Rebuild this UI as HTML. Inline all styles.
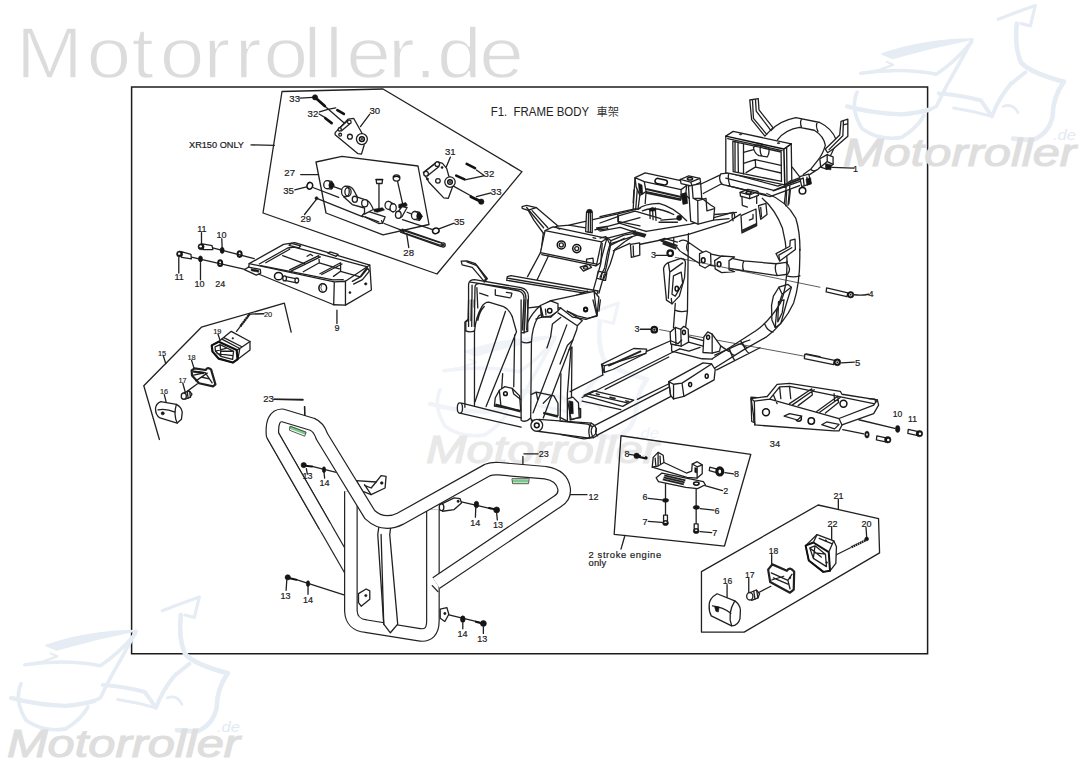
<!DOCTYPE html>
<html><head><meta charset="utf-8"><title>F1. FRAME BODY</title>
<style>
html,body{margin:0;padding:0;background:#fff;}
body{width:1085px;height:768px;overflow:hidden;position:relative;font-family:"Liberation Sans","Noto Sans CJK TC",sans-serif;}
svg{position:absolute;left:0;top:0;display:block}
svg *{vector-effect:non-scaling-stroke}
.k{fill:none;stroke:#202020;stroke-width:1.3;stroke-linejoin:round;stroke-linecap:round}
.t{fill:none;stroke:#333;stroke-width:0.8;stroke-linejoin:round;stroke-linecap:round}
.h{fill:none;stroke:#111;stroke-width:1.5;stroke-linejoin:round;stroke-linecap:round}
.b{fill:none;stroke:#111;stroke-width:2.6;stroke-linecap:round}
.f{fill:#151515;stroke:#151515;stroke-width:0.6;stroke-linejoin:round}
.w{fill:#fff;stroke:#202020;stroke-width:1.3;stroke-linejoin:round;stroke-linecap:round}
.n{font-family:"Liberation Sans",sans-serif;font-size:9.6px;fill:#1c1c1c;stroke:#1c1c1c;stroke-width:0.2}
.s{font-family:"Liberation Sans",sans-serif;font-size:7.4px;fill:#1c1c1c;stroke:#1c1c1c;stroke-width:0.15}
</style></head>
<body>
<svg width="1085" height="768" viewBox="0 0 1085 768">
<!-- 00_border.svg -->
<rect x="131.6" y="86.9" width="796" height="566.9" fill="none" stroke="#1c1c1c" stroke-width="1.5"/>
<!-- 01_wm.svg -->
<g id="wm">
<text transform="scale(1.1,1)" x="14.6 78.7 119.6 145.2 185.0 213.3 239.5 276.0 295.5 314.8 352.7 376.9 397.3 435.8" y="78" style="font-family:'Liberation Sans',sans-serif;font-size:73px" fill="#dcdcdc" stroke="#fff" stroke-width="1.5" stroke-linejoin="round">Motorroller.de</text>
<g transform="translate(820,0)">
<g transform="scale(0.2475)">
<g fill="none" stroke="#e6ecf4" stroke-linecap="round" stroke-linejoin="round">
<path d="M250,218 Q420,160 618,158 Q450,192 292,236 Z" fill="#e6ecf4" stroke-width="1.5"/>
<path d="M165,296 Q330,272 470,300 Q545,250 612,170" stroke-width="3.6"/>
<path d="M270,250 L296,262 L240,282 L165,296" stroke-width="2.2"/>
<path d="M614,162 Q560,262 510,350 L470,430 L445,442" stroke-width="3.6"/>
<path d="M110,430 Q210,458 330,462 Q400,456 445,442" stroke-width="4.4"/>
<path d="M150,372 Q120,440 170,520 Q240,570 330,555 Q395,515 420,466" stroke-width="3.6"/>
<path d="M480,378 Q570,384 650,406 L695,470 Q720,400 770,340 L830,292" stroke-width="4"/>
<path d="M540,436 Q620,448 695,470" stroke-width="3"/>
<path d="M720,78 Q790,50 870,22 L850,105 L812,95" stroke-width="3.2"/>
<path d="M795,95 Q785,190 812,252 Q850,295 985,330" stroke-width="4.6"/>
<path d="M985,330 Q940,395 940,470 Q925,540 860,566 L780,560" stroke-width="4.6"/>
<path d="M740,430 Q780,415 800,456" stroke-width="2.6"/>
</g>
</g>
<text x="23" y="165.6" textLength="233" lengthAdjust="spacingAndGlyphs" style="font-family:'Liberation Sans',sans-serif;font-style:italic;font-size:39px" fill="#dedede" stroke="#dedede" stroke-width="1.1">Motorroller</text>
<text x="233" y="140" textLength="23" lengthAdjust="spacingAndGlyphs" style="font-family:'Liberation Sans',sans-serif;font-style:italic;font-size:14px" fill="#e3eaf3">.de</text>
</g>
<g transform="translate(-16,591.5)">
<g transform="scale(0.2475)">
<g fill="none" stroke="#e6ecf4" stroke-linecap="round" stroke-linejoin="round">
<path d="M250,218 Q420,160 618,158 Q450,192 292,236 Z" fill="#e6ecf4" stroke-width="1.5"/>
<path d="M165,296 Q330,272 470,300 Q545,250 612,170" stroke-width="3.6"/>
<path d="M270,250 L296,262 L240,282 L165,296" stroke-width="2.2"/>
<path d="M614,162 Q560,262 510,350 L470,430 L445,442" stroke-width="3.6"/>
<path d="M110,430 Q210,458 330,462 Q400,456 445,442" stroke-width="4.4"/>
<path d="M150,372 Q120,440 170,520 Q240,570 330,555 Q395,515 420,466" stroke-width="3.6"/>
<path d="M480,378 Q570,384 650,406 L695,470 Q720,400 770,340 L830,292" stroke-width="4"/>
<path d="M540,436 Q620,448 695,470" stroke-width="3"/>
<path d="M720,78 Q790,50 870,22 L850,105 L812,95" stroke-width="3.2"/>
<path d="M795,95 Q785,190 812,252 Q850,295 985,330" stroke-width="4.6"/>
<path d="M985,330 Q940,395 940,470 Q925,540 860,566 L780,560" stroke-width="4.6"/>
<path d="M740,430 Q780,415 800,456" stroke-width="2.6"/>
</g>
</g>
<text x="23" y="165.6" textLength="233" lengthAdjust="spacingAndGlyphs" style="font-family:'Liberation Sans',sans-serif;font-style:italic;font-size:39px" fill="#dedede" stroke="#dedede" stroke-width="1.1">Motorroller</text>
<text x="233" y="140" textLength="23" lengthAdjust="spacingAndGlyphs" style="font-family:'Liberation Sans',sans-serif;font-style:italic;font-size:14px" fill="#e3eaf3">.de</text>
</g>
<g transform="translate(403,297.5)">
<g transform="scale(0.2475)">
<g fill="none" stroke="#f0f3f8" stroke-linecap="round" stroke-linejoin="round">
<path d="M250,218 Q420,160 618,158 Q450,192 292,236 Z" fill="#f0f3f8" stroke-width="1.5"/>
<path d="M165,296 Q330,272 470,300 Q545,250 612,170" stroke-width="3.6"/>
<path d="M270,250 L296,262 L240,282 L165,296" stroke-width="2.2"/>
<path d="M614,162 Q560,262 510,350 L470,430 L445,442" stroke-width="3.6"/>
<path d="M110,430 Q210,458 330,462 Q400,456 445,442" stroke-width="4.4"/>
<path d="M150,372 Q120,440 170,520 Q240,570 330,555 Q395,515 420,466" stroke-width="3.6"/>
<path d="M480,378 Q570,384 650,406 L695,470 Q720,400 770,340 L830,292" stroke-width="4"/>
<path d="M540,436 Q620,448 695,470" stroke-width="3"/>
<path d="M720,78 Q790,50 870,22 L850,105 L812,95" stroke-width="3.2"/>
<path d="M795,95 Q785,190 812,252 Q850,295 985,330" stroke-width="4.6"/>
<path d="M985,330 Q940,395 940,470 Q925,540 860,566 L780,560" stroke-width="4.6"/>
<path d="M740,430 Q780,415 800,456" stroke-width="2.6"/>
</g>
</g>
<text x="23" y="165.6" textLength="233" lengthAdjust="spacingAndGlyphs" style="font-family:'Liberation Sans',sans-serif;font-style:italic;font-size:39px" fill="#e8e8e8" stroke="#e8e8e8" stroke-width="1.1">Motorroller</text>
<text x="233" y="140" textLength="23" lengthAdjust="spacingAndGlyphs" style="font-family:'Liberation Sans',sans-serif;font-style:italic;font-size:14px" fill="#eef2f8">.de</text>
</g>
</g>
<!-- 05_title.svg -->
<text x="490.7" y="115.8" textLength="98.4" lengthAdjust="spacingAndGlyphs" xml:space="preserve" style="font-family:'Liberation Sans',sans-serif;font-size:12px" fill="#222">F1.  FRAME BODY</text>
<text x="596.6" y="116" style="font-family:'Liberation Sans','Noto Sans CJK TC',sans-serif;font-size:11.2px" fill="#333">車架</text>
<!-- 10_xr150.svg -->
<g id="xr150">
<path class="k" d="M282,91.5 L383,89 L522,171.7 L437,274 L263,213 Z"/>
<path class="k" d="M316,162 L342,156.4 L418,166 L429,224.5 L383,234.8 L326,213 Z"/>
<text class="n" x="289.3" y="102.3">33</text>
<text class="n" x="307.6" y="116.5">32</text>
<text class="n" x="369.5" y="113.5">30</text>
<text class="n" x="189" y="147.6" textLength="55" lengthAdjust="spacingAndGlyphs" style="font-size:8.8px">XR150 ONLY</text>
<text class="n" x="284.3" y="176.4">27</text>
<text class="n" x="283.2" y="194">35</text>
<text class="n" x="300.5" y="221.6">29</text>
<text class="n" x="445" y="154.5">31</text>
<text class="n" x="483.6" y="177.4">32</text>
<text class="n" x="490.8" y="195">33</text>
<text class="n" x="454" y="225.3">35</text>
<text class="n" x="403.3" y="255.5">28</text>
<path class="k" d="M251,144.9 L274.3,145.4 M300.7,174.6 L318.5,174.6 M294.8,189.9 L306.6,186.8 M304.5,214.5 L316,199.8"/>
<ellipse class="h" cx="309.8" cy="185.8" rx="2.8" ry="3.4" transform="rotate(20 309.8 185.8)"/>
<circle class="f" cx="316.5" cy="198.2" r="1.5"/>
<g transform="translate(180,86) scale(0.20276)">
<path class="k" d="M592,60 L655,56 M715,100 L855,222 M688,128 Q730,112 768,108 M686,138 L716,156 M935,140 L890,200"/>
<path class="b" d="M668,58 L714,99" style="stroke-width:2.8"/>
<circle class="f" cx="666" cy="56" r="13"/>
<path class="b" d="M776,119 L808,138 M717,159 L748,183"/>
<path class="w" d="M765,230 L830,163 L857,160 L897,232 L908,292 L895,336 L878,334 L765,240 Z"/>
<path class="k" d="M787,207 L828,170 M797,221 L842,183"/>
<circle class="w" cx="835" cy="177" r="9"/><circle class="w" cx="788" cy="214" r="8"/><circle class="w" cx="790" cy="240" r="7"/>
<circle class="w" cx="838" cy="250" r="12"/>
<circle class="w" cx="897" cy="262" r="27"/><circle class="h" cx="897" cy="262" r="12"/><circle class="f" cx="897" cy="262" r="4"/>
</g>
<g transform="translate(340,120) scale(0.208333)">
<path class="k" d="M530,178 L510,226 M540,315 L630,365 M690,265 L655,240 M690,268 L605,286 M725,350 L655,368 M548,495 L478,521 M330,612 L320,545"/>
<path class="b" d="M608,211 L648,231 M558,267 L598,285"/>
<path class="b" d="M628,368 L680,393" style="stroke-width:2.8"/>
<circle class="f" cx="678" cy="392" r="13"/>
<path class="w" d="M400,252 L466,200 L492,208 L512,232 L522,268 L548,300 L520,376 L498,374 L428,300 Z"/>
<path class="k" d="M406,248 L460,206 M420,268 L474,224"/>
<circle class="w" cx="467" cy="212" r="11"/><circle class="w" cx="413" cy="258" r="11"/><circle class="w" cx="470" cy="292" r="11"/>
<circle class="w" cx="528" cy="298" r="25"/><circle class="h" cx="528" cy="298" r="11"/><circle class="f" cx="528" cy="298" r="4"/>
<circle class="f" cx="490" cy="228" r="5"/><circle class="f" cx="420" cy="283" r="5"/>
<ellipse class="h" cx="460" cy="532" rx="16" ry="13" transform="rotate(-20 460 532)"/>
<path class="k" d="M300,478 L445,526"/>
<path class="k" d="M298,524 L488,590 M290,538 L482,607"/>
<circle class="w" cx="495" cy="600" r="10"/><circle class="k" cx="495" cy="600" r="4"/>
</g>
</g>
<!-- 11_mech.svg -->
<g id="mech" transform="translate(300,160) scale(0.129032)">
<path class="k" d="M100,213 L300,290 M140,302 L488,440 M652,492 L790,545 M245,200 L320,228 M830,405 L868,420"/>
<path class="k" d="M790,543 L1085,640 M800,562 L1085,660"/>
<path class="f" d="M770,540 L800,548 L810,560 L780,552 Z"/>
<!-- plate -->
<path class="w" d="M480,432 L515,395 L660,440 L640,490 L610,492 Z"/>
<path class="k" d="M505,440 L610,480 M640,490 L632,470"/>
<!-- left bushing -->
<path class="w" d="M210,160 L245,165 L262,195 L245,225 L210,222 Z"/>
<ellipse class="w" cx="210" cy="191" rx="26" ry="31"/>
<path class="f" d="M232,172 L250,170 L265,195 L250,222 L232,218 Q215,195 232,172 Z"/>
<!-- link arm -->
<path class="w" d="M345,205 Q395,195 420,240 L445,288 L520,312 Q548,330 568,384 L500,420 L500,372 L405,345 L338,285 Z"/>
<ellipse class="w" cx="352" cy="245" rx="30" ry="40"/>
<ellipse class="k" cx="372" cy="247" rx="24" ry="34"/>
<ellipse class="w" cx="425" cy="305" rx="20" ry="24"/>
<ellipse class="w" cx="502" cy="335" rx="24" ry="28"/>
<!-- pins -->
<path class="k" d="M612,180 L612,378 M756,166 L796,342"/>
<path class="w" d="M590,152 L640,152 L636,182 L594,182 Z"/>
<path class="h" d="M590,152 L640,152"/>
<ellipse class="w" cx="748" cy="140" rx="26" ry="24"/>
<path class="h" d="M726,132 Q748,120 770,134"/>
<path class="f" d="M572,382 L640,370 L655,388 L600,405 L575,400 Z"/>
<path class="f" d="M765,345 L820,330 L832,350 L790,378 L766,372 Z"/>
<!-- mid bushings -->
<path class="w" d="M685,320 L722,338 L722,402 L685,382 Z"/>
<ellipse class="w" cx="685" cy="351" rx="26" ry="31"/>
<ellipse class="w" cx="722" cy="370" rx="24" ry="31"/>
<!-- right arm -->
<path class="w" d="M790,362 L830,368 L790,440 Q760,462 740,432 Z"/>
<ellipse class="w" cx="762" cy="425" rx="22" ry="28"/>
<!-- right bushing -->
<path class="w" d="M890,399 L925,405 L945,437 L925,468 L890,461 Z"/>
<ellipse class="w" cx="890" cy="430" rx="26" ry="31"/>
<path class="f" d="M912,410 L930,408 L948,437 L930,466 L912,458 Q896,435 912,410 Z"/>
</g>
<!-- 20_part9.svg -->
<g id="part9" transform="translate(165,220) scale(0.20276)">
<!-- axis lines -->
<path class="k" d="M235,138 L440,190 M130,183 L400,245 M180,62 L180,118 M280,92 L282,138 M68,186 L68,262 M175,210 L175,295 M848,445 L848,510"/>
<!-- tray body -->
<path class="w" d="M415,215 L585,120 L640,112 L1010,222 L1018,345 L890,420 L832,418 L470,270 L412,240 Z"/>
<path class="k" d="M415,215 L835,305 L890,302 L1010,222 M835,305 L832,418 M890,302 L890,420"/>
<path class="k" d="M465,217 L605,138 L637,134 L994,230 M472,225 L828,295 L879,294 M615,246 L758,176 L761,211 L682,255 M624,251 L766,182 M764,265 L866,211 L866,253 L831,278 M773,269 L873,217 M580,176 L688,215 M761,211 L860,241 M866,253 L962,281 L997,233 M924,303 L968,278 L1000,239 L1008,252 L974,294 L930,316 M701,179 L717,169 L728,176 M497,211 L615,144"/>
<path class="w" d="M612,125 L624,115 L669,128 L659,138 Z"/>
<path class="w" d="M803,163 L815,157 L854,169 L844,179 Z"/>
<!-- front tab left -->
<path class="w" d="M392,245 L412,232 L470,244 L472,262 L450,272 Z"/>
<path class="f" d="M425,240 L462,248 L462,258 L425,250 Z"/>
<!-- front holes -->
<ellipse class="h" cx="560" cy="277" rx="20" ry="18"/>
<path class="w" d="M590,278 L650,290 L650,310 L590,298 Z"/>
<ellipse class="w" cx="590" cy="288" rx="9" ry="12"/><ellipse class="w" cx="650" cy="298" rx="9" ry="12"/>
<ellipse class="h" cx="778" cy="335" rx="19" ry="21"/>
<path class="t" d="M772,322 Q762,335 775,350"/>
<circle class="f" cx="912" cy="358" r="5"/><circle class="f" cx="990" cy="315" r="6"/>
<!-- bolts upper -->
<path class="w" d="M185,118 L232,126 L236,146 L188,146 Z"/>
<circle class="f" cx="178" cy="132" r="15"/><circle cx="176" cy="130" r="6" fill="#fff"/>
<ellipse class="f" cx="282" cy="150" rx="10" ry="15"/>
<ellipse cx="368" cy="168" rx="10" ry="14" fill="none" stroke="#151515" stroke-width="2"/>
<!-- bolts lower -->
<path class="w" d="M80,156 L128,170 L130,192 L82,184 Z"/>
<circle class="f" cx="72" cy="168" r="15"/><circle cx="70" cy="166" r="6" fill="#fff"/>
<ellipse class="f" cx="175" cy="192" rx="10" ry="15"/>
<ellipse cx="272" cy="213" rx="10" ry="14" fill="none" stroke="#151515" stroke-width="2"/>
</g>
<text class="n" x="197.2" y="232.4" style="font-size:9px">11</text>
<text class="n" x="216.5" y="238" style="font-size:9px">10</text>
<text class="n" x="174.5" y="280" style="font-size:9px">11</text>
<text class="n" x="194.6" y="286.6" style="font-size:9px">10</text>
<text class="n" x="215.2" y="286.6" style="font-size:9px">24</text>
<text class="n" x="334.6" y="330.6" style="font-size:9px">9</text>
<!-- 30_signalL.svg -->
<g id="sigL" transform="translate(135,295) scale(0.195228)">
<path class="k" d="M125,740 L45,465 L340,165 L765,42 L800,190"/>
<path class="k" d="M145,312 L158,352 M425,200 L440,245 M660,96 L590,98 M290,335 L305,385 M245,452 L258,500 M150,510 L160,550 M712,533 L860,535 M868,572 L870,625"/>
<!-- screw 20 -->
<path class="k" d="M586,100 L520,186"/>
<path d="M588,96 L540,160" fill="none" stroke="#222" stroke-width="2.4" stroke-dasharray="1.8 0.5"/>
<!-- part 19 housing -->
<path class="w" d="M393,258 L429,238 L493,186 L589,238 L589,282 L525,330 L501,346 L429,326 L397,290 Z"/>
<path class="k" d="M445,226 L537,274 L589,238 M537,274 L527,328 M455,218 L545,264 M521,282 L537,274"/>
<path class="h" d="M393,258 L429,240 L521,282 L525,330 L501,346 L429,326 L397,290 Z" style="stroke-width:2.2"/>
<path class="k" d="M410,266 L436,254 L505,288 L500,330 L440,314 L412,288 Z M436,254 L440,314 M440,288 L505,288 M412,288 L470,272 M420,300 L500,310"/>
<circle class="f" cx="501" cy="222" r="4"/>
<!-- part 18 plate -->
<path class="w" d="M290,386 L305,376 L362,384 Q372,366 390,382 L412,458 L400,468 L328,452 L292,412 Z" style="stroke-width:2.2"/>
<path class="k" d="M305,392 L360,398 L395,450 M300,410 L350,400 M312,440 L370,400 M340,420 L380,430"/>
<path class="f" d="M298,388 L355,396 L352,404 L298,396 Z"/>
<!-- bulb 17 -->
<path class="k" d="M258,500 L320,455"/>
<path class="w" d="M252,500 L278,492 L292,508 L282,524 L256,534 Z"/>
<ellipse class="w" cx="250" cy="518" rx="13" ry="16"/>
<path class="k" d="M268,496 L272,530 M280,494 L284,524"/>
<!-- lens 16 -->
<path class="w" d="M105,580 Q108,556 132,546 L212,560 Q238,574 242,600 L238,636 L216,656 L128,630 Q104,615 105,580 Z"/>
<path class="k" d="M216,656 Q196,612 212,560 M118,588 Q160,580 205,600"/>
<circle class="f" cx="142" cy="606" r="8"/>
</g>
<text class="s" x="158" y="356">15</text>
<text class="s" x="213.2" y="334">19</text>
<text class="s" x="264" y="316.5">20</text>
<text class="s" x="187.4" y="360">18</text>
<text class="s" x="178.4" y="382.8">17</text>
<text class="s" x="160" y="394.2">16</text>
<text class="n" x="263.2" y="402.3">23</text>
<!-- 40_bumper.svg -->
<g id="bumper" transform="translate(225,395) scale(0.33211)" fill="none">
<!-- bolt axis lines behind -->
<path class="k" d="M262,215 L335,233 M215,556 L358,602 M147,13 L235,15 M240,35 L240,65 M900,177 L943,177 M897,185 L897,210 M1020,300 L1090,300"/>
<!-- upper-left bracket (behind tube) -->
<path class="w" d="M395,258 L455,262 L470,243 L485,245 L482,280 L440,300 L415,290 Z"/>
<path class="k" d="M420,270 L440,300 M455,262 L440,280 L420,272"/>
<circle class="f" cx="472" cy="265" r="4"/>
<!-- left limb (behind U frame) -->
<path d="M378,529 L143,120" stroke="#222" stroke-width="13.7"/>
<path d="M378,529 L143,120" stroke="#fff" stroke-width="11.3"/>
<!-- U frame -->
<path d="M379,290 L379,650 Q381,692 425,696 L585,722 Q626,728 626,680 L626,345" stroke="#222" stroke-width="13.7" stroke-linejoin="round"/>
<path d="M379,290 L379,650 Q381,692 425,696 L585,722 Q626,728 626,680 L626,345" stroke="#fff" stroke-width="11.3" stroke-linejoin="round"/>
<!-- right bracket -->
<path class="w" d="M648,330 L690,310 L708,312 L712,325 L690,345 L655,350 Z"/>
<ellipse class="w" cx="652" cy="338" rx="7" ry="10"/>
<circle class="f" cx="702" cy="320" r="3.5"/>
<!-- lower tabs -->
<path class="w" d="M402,598 L425,584 L436,590 L436,615 L410,636 L402,625 Z"/>
<circle class="f" cx="424" cy="604" r="3.5"/>
<path class="w" d="M648,645 L668,640 L674,660 L662,682 L648,672 Z"/>
<circle class="f" cx="662" cy="658" r="3.5"/>
<!-- centre flattened tube -->
<path class="w" d="M464,392 L460,420 L478,690 L498,716 L520,690 L496,420 L499,398 Z"/>
<path class="k" d="M478,690 L470,420"/>
<!-- upper tube -->
<path d="M300,394 L143,120 Q139,62 172,61 L262,88 Q282,96 292,125 L436,360 Q477,398 529,372 L790,226 Q805,220 825,222 L965,234 Q1015,242 1021,282 Q1024,306 1003,319 L636,566" stroke="#222" stroke-width="13.7" stroke-linejoin="round"/>
<path d="M306,404 L143,120 Q139,62 172,61 L262,88 Q282,96 292,125 L436,360 Q477,398 529,372 L790,226 Q805,220 825,222 L965,234 Q1015,242 1021,282 Q1024,306 1003,319 L636,566" stroke="#fff" stroke-width="11.3" stroke-linejoin="round"/>
<path class="k" d="M624,574 L641,592"/>
<!-- reflectors -->
<path d="M198,98 L240,114" stroke="#7c8" stroke-width="3.2" stroke-linecap="round"/>
<path d="M196,94 L244,112 L240,124 L194,106 Z" stroke="#444" stroke-width="0.9"/>
<path d="M870,259 L910,259" stroke="#7c8" stroke-width="3.2" stroke-linecap="round"/>
<path d="M864,252 L916,252 L914,267 L866,267 Z" stroke="#444" stroke-width="0.9"/>
<!-- bolts -->
<path class="b" d="M242,213 L262,215" style="stroke-width:2"/><circle class="f" cx="237" cy="211" r="8"/>
<ellipse class="f" cx="298" cy="225" rx="5" ry="9"/>
<path class="k" d="M298,232 L300,250 M245,222 L248,238"/>
<path class="b" d="M195,552 L215,556" style="stroke-width:2"/><circle class="f" cx="189" cy="549" r="8"/>
<ellipse class="f" cx="250" cy="568" rx="5" ry="9"/>
<path class="k" d="M186,558 L184,588 M250,578 L250,600"/>
<path class="k" d="M712,322 L800,342"/>
<ellipse class="f" cx="757" cy="330" rx="7" ry="10"/>
<path class="b" d="M795,340 L812,344" style="stroke-width:2"/><circle class="f" cx="818" cy="346" r="9"/>
<path class="k" d="M755,340 L754,368 M818,356 L820,376"/>
<path class="k" d="M674,662 L765,684"/>
<ellipse class="f" cx="716" cy="675" rx="7" ry="10"/>
<path class="b" d="M755,683 L772,687" style="stroke-width:2"/><circle class="f" cx="778" cy="688" r="9"/>
<path class="k" d="M716,686 L716,704 M778,698 L778,718"/>
</g>
<text class="n" x="302.5" y="478.8" style="font-size:9px">13</text>
<text class="n" x="319.5" y="485.5" style="font-size:9px">14</text>
<text class="n" x="470.2" y="525.5" style="font-size:9px">14</text>
<text class="n" x="493" y="528" style="font-size:9px">13</text>
<text class="n" x="280.5" y="598.5" style="font-size:9px">13</text>
<text class="n" x="303" y="602.8" style="font-size:9px">14</text>
<text class="n" x="457.5" y="637" style="font-size:9px">14</text>
<text class="n" x="477.3" y="641.6" style="font-size:9px">13</text>
<text class="n" x="538.7" y="457.4" style="font-size:9px">23</text>
<text class="n" x="588.5" y="499.6" style="font-size:9px">12</text>
<!-- 50_frameA.svg -->
<g id="frameA" transform="translate(440,190) scale(0.184332)">
<!-- tubes behind plate going right -->
<path class="k" d="M640,196 L700,190 L965,130 M840,216 L1085,150 M700,190 L790,205 M905,262 L1060,222 M930,290 L1085,240 M965,130 L965,170 L1085,195 M965,130 L1085,100 M1048,70 L1052,0 M1062,100 L1070,0 M850,205 L905,198 L910,210 L860,218 Z"/>
<!-- hook upper -->
<path class="w" d="M445,90 L470,84 L522,95 L640,195 L600,210 L562,236 L510,165 L478,110 L446,100 Z"/>
<path class="k" d="M470,95 L562,205 M522,95 L484,108 M500,112 L585,205"/>
<!-- left rails down from plate -->
<path class="k" d="M545,340 L475,470 M588,358 L522,498 M560,236 L548,340"/>
<!-- front plate -->
<path class="w" d="M570,220 L612,200 L905,262 L876,282 L850,402 L545,340 Z"/>
<path class="k" d="M570,220 L876,282 M552,350 L846,412 L850,402 M846,412 L870,395 L905,262"/>
<circle class="h" cx="658" cy="298" r="22"/><circle class="k" cx="658" cy="298" r="11"/>
<circle class="h" cx="742" cy="318" r="22"/><circle class="k" cx="742" cy="318" r="11"/>
<path class="k" d="M795,375 L830,370 L832,398 M795,375 L795,395 M640,208 L650,212 M830,258 L845,262"/>
<path class="w" d="M760,418 L808,404 L822,420 L778,440 Z"/><ellipse class="k" cx="790" cy="422" rx="12" ry="7"/>
<!-- post -->
<path class="w" d="M795,120 L790,226 L826,232 L826,120 Z"/>
<path class="k" d="M806,125 L804,228 M816,125 L816,230"/>
<ellipse class="f" cx="811" cy="115" rx="15" ry="10"/>
<!-- right vertical tube -->
<path class="k" d="M905,262 L925,300 L902,420 L862,560 M880,290 L872,400 L832,542 M925,300 L1000,262 M940,330 L1030,290 M880,445 L905,450 L898,490 L872,485 M858,440 L880,445 L872,485 L850,478 Z"/>
<!-- cross bar -->
<path class="w" d="M365,470 L385,464 L858,548 L850,568 L800,562 L362,490 Z"/>
<path class="k" d="M365,478 L820,555 M640,610 L800,548 M650,622 L835,560"/>
<!-- lower hook -->
<path class="w" d="M115,386 L146,384 L192,400 L256,480 L236,492 L175,420 L120,406 Z"/>
<path class="k" d="M146,390 L200,410 L250,484"/>
<!-- U handle -->
<path class="k" d="M155,740 L155,512 Q158,486 188,486 L440,530 Q480,540 480,580 L470,760 M186,740 L190,522 Q195,506 215,508 L430,548 Q456,556 456,590 L446,760 M172,740 L174,516 M165,500 L440,540 Q468,552 466,590 L458,760"/>
<path class="k" d="M200,530 L205,640 M215,560 L260,575 M300,540 L300,570 L380,585 M360,555 L390,560 L385,580"/>
<path class="k" d="M155,700 L140,712 L140,760 M240,500 L256,482"/>
<!-- bracket right-lower -->
<path class="w" d="M545,632 L602,600 L836,550 L862,582 L852,680 L792,702 L720,690 L655,640 L600,690 L552,690 Z"/>
<path class="k" d="M602,600 L610,640 L655,640 M836,550 L840,590 L852,680 M545,632 L552,690 M610,640 L600,690"/>
<circle class="h" cx="595" cy="658" r="12"/><circle class="h" cx="790" cy="650" r="10"/>
<path class="k" d="M570,650 L572,680 M480,640 L545,632 M520,700 L552,690"/>
</g>
<!-- 51_frameB.svg -->
<g id="frameB" transform="translate(440,300) scale(0.184332)">
<!-- right vertical tube (behind) -->
<path class="k" d="M716,255 L712,640 M656,400 L652,650 M716,255 L700,270"/>
<!-- left vertical tube -->
<path class="k" d="M135,120 L135,582 M187,170 L187,572 M135,120 L150,112 M135,165 Q160,180 187,168 M155,0 L152,112 M170,0 L168,112 M186,0 L186,40"/>
<!-- arch 1 -->
<path class="k" d="M187,170 Q195,90 225,40 Q240,12 265,12 L345,36 Q375,50 392,90 M205,110 Q215,60 240,35"/>
<!-- diagonal 1 -->
<path class="k" d="M355,62 L190,552 M415,172 L250,578 M392,90 L415,172 M405,190 L400,470 M340,400 L335,480"/>
<!-- middle vertical tube -->
<path class="k" d="M440,0 L440,652 M496,228 L492,640 M456,0 L456,180 M476,0 L476,170 M440,180 L476,170 M440,225 Q470,240 496,226 M440,652 Q465,668 492,640"/>
<!-- arch 2 -->
<path class="k" d="M496,228 Q500,150 530,95 Q545,70 560,90 M476,120 Q500,70 545,30"/>
<!-- diagonal 2 + X -->
<path class="k" d="M688,135 L505,612 M742,160 L560,640 M640,70 L745,140 L742,160 M690,60 L772,112 L745,140 M655,95 L610,130 L600,200 L580,260"/>
<!-- top bracket bottom part -->
<path class="w" d="M545,30 L600,5 L640,20 L640,60 L600,88 L560,92 Z"/>
<circle class="h" cx="595" cy="58" r="12"/><path class="k" d="M572,50 L575,80"/>
<path class="k" d="M830,0 L852,88 L800,100 L745,86 L690,60 M870,0 L862,60"/>
<circle class="h" cx="790" cy="50" r="10"/>
<!-- bottom cross tube 1 -->
<path class="k" d="M118,560 L440,640 M108,614 L440,690 M496,652 L520,655"/>
<ellipse class="w" cx="108" cy="586" rx="14" ry="28"/>
<!-- hinges -->
<path class="w" d="M295,575 L300,530 L322,490 L352,470 L392,480 L432,520 L438,600 Z"/>
<circle class="h" cx="355" cy="508" r="10"/>
<path class="k" d="M392,480 L400,510 L438,540 M322,490 L330,570"/>
<path d="M300,568 L438,604" fill="none" stroke="#222" stroke-width="2.4"/>
<path class="k" d="M496,512 L522,500 L618,520 L640,560 L640,628 M522,500 L530,540 M600,520 L560,560"/>
<path d="M560,612 L640,632" fill="none" stroke="#222" stroke-width="2.4"/>
<path class="w" d="M700,545 L730,540 L746,572 L746,640 L706,652 Z"/>
<path class="k" d="M746,590 L760,592 L760,640 L746,640 M715,560 L716,640"/>
<!-- bottom cross tube 2 -->
<path class="w" d="M535,648 L820,668 Q850,680 848,712 Q842,745 800,748 L530,712 Z"/>
<path class="k" d="M820,668 Q800,700 812,746"/>
<circle class="w" cx="525" cy="680" r="32"/><circle class="h" cx="525" cy="680" r="13"/>
<path class="k" d="M500,660 L492,640"/>
</g>
<!-- 52_frameC.svg -->
<g id="frameC" transform="translate(600,150) scale(0.184332)">
<!-- upper cross tube + connector -->
<path class="k" d="M545,186 L650,136 M560,236 L662,182 M655,130 Q640,158 662,186 M655,130 L700,124 L965,196 M662,186 L900,242 M700,124 Q690,150 705,196 M965,196 L1085,150 M940,222 L1085,170 M1010,200 L1000,290 M1030,195 L1020,300"/>
<!-- big curved tube right -->
<path class="k" d="M905,236 Q1010,275 1062,370 Q1085,440 1085,545 M880,262 Q950,320 990,425 Q1012,510 1015,612"/>
<!-- long tube -->
<path class="k" d="M250,442 L490,402 L722,338 M205,514 L480,458 L700,388 L762,348 M722,338 Q735,350 728,372"/>
<!-- left lines -->
<path class="k" d="M0,362 L195,318 M0,396 L100,360 L100,396 L250,442 M100,358 L190,332 L330,372 M0,478 L30,470 L60,492 L40,560 L25,640 L0,690 M60,492 L130,462 L200,450 M0,440 L110,420 L200,450 M130,500 L80,540 L55,620 L20,700 M130,500 L175,470"/>
<path d="M170,440 L250,462 M180,452 L245,470" fill="none" stroke="#222" stroke-width="2.2"/>
<!-- box -->
<path class="w" d="M190,150 L245,124 L438,166 L470,192 L466,232 L440,242 L440,266 L250,226 L216,246 L196,200 Z"/>
<path class="k" d="M190,150 L240,172 L250,226 M240,172 L440,215 L470,192 M440,215 L440,242 M190,150 L180,320 M216,246 L206,322 M250,226 L245,290"/>
<path d="M250,212 L440,255 M250,232 L440,272" fill="none" stroke="#222" stroke-width="2"/>
<rect class="h" x="298" y="158" width="68" height="28" rx="14" transform="rotate(12 332 172)"/>
<path class="f" d="M208,180 L228,190 L232,240 L214,235 Z M440,240 L470,232 L475,290 L450,295 Z"/>
<!-- pads -->
<path class="w" d="M435,160 L482,140 L542,154 L546,176 L500,196 L440,182 Z"/><ellipse class="h" cx="488" cy="156" rx="14" ry="7"/>
<path class="k" d="M435,160 L492,174 L542,154 M492,174 L500,196"/>
<path class="w" d="M760,230 L802,214 L856,225 L860,246 L812,264 L762,250 Z"/><ellipse class="h" cx="806" cy="232" rx="14" ry="7"/>
<path class="k" d="M760,230 L812,244 L856,225 M812,244 L812,264 M770,252 L772,300 L800,310 M850,250 L850,290"/>
<!-- block under pad 1 -->
<path class="w" d="M480,196 L546,182 L552,262 L600,298 L622,312 L616,380 L532,402 L492,386 L484,262 Z"/>
<path class="k" d="M500,196 L505,262 L530,275 L532,402 M552,262 L505,262 M530,275 L575,262 L580,330 L616,320 M460,240 L484,262"/>
<!-- arch under box -->
<path class="k" d="M206,322 Q240,292 320,290 Q400,310 470,384 M230,330 Q300,300 400,350 M270,322 L272,372 M300,314 L304,382 M285,318 L288,378 M330,380 L430,372 M320,392 L420,392"/>
<circle class="f" cx="430" cy="368" r="14"/>
<path class="f" d="M270,318 Q285,305 300,318 L300,330 L270,332 Z"/>
<!-- tube to right from block -->
<path class="k" d="M622,350 Q690,345 740,338 M616,380 L700,372 M720,340 Q712,360 722,384"/>
<!-- plates -->
<path class="w" d="M765,356 L846,320 L850,410 L770,450 Z"/><path d="M770,440 L850,402" fill="none" stroke="#222" stroke-width="2.4"/><path class="k" d="M810,380 L830,372 L830,350"/>
<path class="w" d="M860,302 L900,290 L906,350 L872,376 Z"/><path class="k" d="M872,312 L876,362"/>
<path class="w" d="M955,562 L1030,522 L1032,490 L1058,484 L1060,540 L975,602 Z"/><path class="k" d="M975,602 L970,570 L1040,530"/>
<path class="w" d="M165,512 L215,504 L216,570 L170,582 Z"/><path class="k" d="M180,520 L182,575"/>
<!-- lower tube -->
<path class="k" d="M430,496 Q455,480 480,500 L560,556 L780,602 L955,617 L1010,610 Q1042,640 1018,674 L962,681 L780,655 L540,616 L455,562 Q430,550 420,530 M780,602 Q768,630 780,655 M955,617 Q944,650 962,681 M480,500 Q462,520 475,548"/>
<path class="w" d="M540,562 L575,548 L600,560 L602,620 L570,640 L540,625 Z"/><ellipse class="h" cx="560" cy="598" rx="10" ry="14"/>
<path class="w" d="M622,600 L660,575 L730,580 L700,600 L700,650 L730,660 L660,665 L625,645 Z"/><ellipse class="h" cx="646" cy="620" rx="10" ry="14"/>
<!-- label 3 + nut -->
<path class="k" d="M302,572 L362,572"/>
<circle cx="381" cy="560" r="15" fill="#fff" stroke="#151515" stroke-width="2.2"/>
<path d="M330,490 L420,522 M340,505 L415,535" fill="none" stroke="#222" stroke-width="2.4"/>
<path class="k" d="M320,490 L350,480 L420,500 M400,480 L400,520"/>
</g>
<text class="n" x="651" y="258" style="font-size:9px">3</text>
<!-- 53_frameD.svg -->
<g id="frameD" transform="translate(700,86) scale(0.184332)">
<!-- rear curved tube -->
<path class="k" d="M385,242 Q430,190 520,172 L650,198 Q715,230 738,290 Q735,330 700,392 L640,452 L592,482 M420,292 Q465,236 540,225 L620,240 Q672,272 680,322 Q665,372 640,402 L600,452 L560,480 M550,180 Q540,200 552,226 M636,196 Q626,218 640,246 M600,452 Q615,468 640,452"/>
<!-- left hook -->
<path class="w" d="M270,76 L316,68 L320,130 L396,226 L352,272 L280,182 Z"/>
<path class="k" d="M285,80 L290,176 L362,262 M301,74 L305,136 L382,238"/>
<!-- right hook -->
<path class="w" d="M765,192 L802,180 L802,272 L722,342 L692,362 L680,342 L758,266 Z"/>
<path class="k" d="M778,192 L775,270 L700,345 M782,210 L800,205"/>
<!-- connector + label 1 -->
<path class="w" d="M650,395 L690,372 L722,385 L722,425 L690,452 L655,440 Z"/>
<path class="k" d="M690,372 L690,410 L655,440 M690,410 L722,425 M715,442 L835,446"/>
<path class="f" d="M680,420 L712,428 L710,455 L682,450 Z"/>
<!-- latch -->
<path class="w" d="M540,492 L590,478 L602,530 L552,546 Z"/>
<path class="k" d="M560,500 L565,540 M580,495 L585,535"/>
<circle class="h" cx="556" cy="568" r="18"/>
<path class="f" d="M575,505 L600,498 L604,530 L580,538 Z"/>
<!-- box frame -->
<path class="w" d="M140,272 L180,246 L495,314 L498,510 L460,536 L140,470 Z"/>
<path class="h" d="M140,272 L455,342 L460,536 M455,342 L495,314"/>
<path class="k" d="M178,300 L440,358 L442,518 L180,464 Z M150,285 L445,350 M470,335 L472,522 M190,300 L190,462 M236,318 L236,478 M206,306 L208,466"/>
<path class="k" d="M290,335 Q300,315 330,322 L372,335 Q380,360 365,385 L320,378 Q295,365 290,335 M300,400 L440,430 M300,400 L302,440 L440,472 M236,420 L300,400 M250,470 L300,440 M330,322 Q320,350 335,380 M236,360 L290,345"/>
<ellipse class="f" cx="220" cy="262" rx="7" ry="3"/><ellipse class="f" cx="426" cy="310" rx="7" ry="3"/>
<!-- under box -->
<path class="k" d="M140,500 L400,566 L560,500 M150,540 L380,600 L540,540 M460,536 L540,505 M470,572 L466,650 M490,566 L482,640 M500,440 L540,492"/>
</g>
<text class="n" x="853" y="171.5" style="font-size:9px">1</text>
<!-- 54_frameE.svg -->
<g id="frameE" transform="translate(620,250) scale(0.184332)">
<!-- axis lines for bolts 4,5 -->
<path class="t" d="M300,40 L1085,202"/>
<path class="t" d="M215,432 L1000,576"/>
<!-- vertical tube -->
<path class="k" d="M371,-90 L366,330 L356,420 M300,290 L290,420 M298,326 Q330,340 364,330"/>
<!-- teardrop bracket left -->
<path class="w" d="M236,102 Q240,78 262,68 L330,46 Q356,48 355,72 L350,150 L322,250 L282,292 L252,272 Z"/>
<path class="k" d="M262,68 L270,120 L262,262 M270,120 L340,70 M290,140 L332,120 L340,180 L300,250 L282,240 Z M282,292 L278,262"/>
<ellipse class="h" cx="308" cy="210" rx="9" ry="13"/>
<!-- right teardrop bracket -->
<path class="w" d="M822,300 L832,250 L862,202 L910,186 L930,202 L900,300 L872,400 L842,420 L824,380 Z"/>
<path class="k" d="M862,202 L880,240 L850,330 L842,420 M880,240 L925,205 M860,280 L890,270 L880,340 L856,390 Z"/>
<!-- curved tube bottom-right -->
<path class="k" d="M500,590 L615,517 L739,437 Q812,385 871,287 Q908,200 906,60 M512,642 L527,632 L668,543 L792,473 Q890,400 942,287 Q980,170 975,-5 M590,532 Q596,565 622,572 M655,492 Q664,522 692,530 M785,402 Q800,440 830,446 M905,140 Q940,152 976,140"/>
<!-- lugs -->
<path class="w" d="M272,446 L300,420 L330,430 L346,414 L370,430 L372,500 L332,522 L275,510 Z"/>
<path class="k" d="M330,430 L332,522 M300,420 L304,516"/><ellipse class="h" cx="347" cy="447" rx="8" ry="11"/>
<path class="w" d="M450,556 L455,472 L476,444 L500,456 L546,520 L540,548 L500,560 Z"/>
<path class="k" d="M500,456 L500,560"/><ellipse class="h" cx="478" cy="474" rx="8" ry="11"/>
<!-- base tubes -->
<path class="k" d="M372,470 L452,492 M372,500 L450,522 M280,512 L280,548 L445,590 L500,592 M546,520 L590,550"/>
<!-- nuts 3 -->
<path class="k" d="M110,430 L165,430"/>
<circle cx="186" cy="432" r="15" fill="#fff" stroke="#151515" stroke-width="2.2"/><circle class="f" cx="186" cy="432" r="5"/>
<!-- bolt 5 body -->
<path class="w" d="M1010,564 L1085,578 L1085,598 L1008,584 Z"/>
</g>
<text class="n" x="634.5" y="332" style="font-size:9px">3</text>
<!-- 55_frameG.svg -->
<g id="frameG" transform="translate(560,340) scale(0.184332)">
<!-- rail A -->
<path class="k" d="M55,280 L232,190 M470,62 L600,4 M120,312 L600,72 L650,48 M245,268 L590,92 M420,322 L602,232"/>
<!-- small bracket on rail A -->
<path class="w" d="M225,132 L400,46 L470,50 L466,72 L286,160 L240,176 Z"/>
<path class="k" d="M225,132 L240,140 L466,72 M240,140 L240,176 M228,140 L232,190"/>
<path d="M262,140 L440,60" fill="none" stroke="#222" stroke-width="2"/>
<!-- cross plate w/ holes -->
<path class="k" d="M130,300 L182,276 L400,326 L340,360 Z M150,292 L372,342 M120,332 L330,378"/>
<path class="f" d="M195,290 L215,294 L215,298 L195,294 Z M270,308 L300,314 L300,320 L270,314 Z M355,328 L375,332 L375,336 L355,332 Z"/>
<!-- rail B -->
<path class="k" d="M176,470 L592,256 M210,512 L602,306 M176,470 Q160,500 182,530 L210,512 M198,480 Q186,505 204,520"/>
<path class="k" d="M0,440 L150,456 L176,470 M0,512 L130,536 L182,530"/>
<!-- left vertical / lug -->
<path class="k" d="M0,130 L40,30 L70,0 M40,292 L60,40 M0,420 L40,440 M40,292 L40,440"/>
<path class="w" d="M40,320 L70,310 L100,340 L104,420 L60,430 Z"/><path class="f" d="M50,330 L70,335 L72,400 L52,400 Z"/>
<path class="k" d="M100,370 L112,372 L112,420 L104,420"/>
<!-- curved tube to right -->
<path class="k" d="M840,82 L1000,10 L1030,0 M850,162 L1085,42 M920,50 Q930,85 948,112 M990,14 Q1000,50 1024,72 M650,48 L700,60 L760,40 M600,4 L640,20 L660,0"/>
<!-- box bracket -->
<path class="w" d="M590,226 L776,124 L822,130 L842,160 L836,216 L672,306 L616,320 L600,300 Z"/>
<path class="k" d="M590,226 L616,240 L662,234 L822,130 M616,240 L616,320 M662,234 L672,306 M600,300 L590,226"/>
<ellipse class="h" cx="706" cy="242" rx="8" ry="11"/><ellipse class="h" cx="796" cy="196" rx="8" ry="11"/>
<!-- part 34 corner -->
<path class="k" d="M1085,314 L1036,310 L1040,442 L1085,462 M1050,320 L1052,440"/>
</g>
<!-- 60_right.svg -->
<g id="rightside" transform="translate(740,270) scale(0.247525)">
<!-- bolt 4 -->
<path class="w" d="M350,72 L436,92 L432,108 L348,88 Z"/>
<circle class="f" cx="447" cy="100" r="13"/><circle cx="447" cy="100" r="5" fill="none" stroke="#fff" stroke-width="0.8"/>
<path class="k" d="M462,100 Q490,104 520,98"/>
<!-- bolt 5 -->
<path class="w" d="M262,340 L382,365 L378,382 L260,358 Z"/>
<circle class="f" cx="393" cy="373" r="14"/><circle cx="393" cy="373" r="5" fill="none" stroke="#fff" stroke-width="0.8"/>
<path class="k" d="M410,375 L462,372"/>
<!-- part 34 -->
<path class="w" d="M45,520 L110,511 L150,462 L200,458 L405,490 L412,502 L555,525 L560,546 L540,580 L412,626 L400,650 L380,650 L60,626 Z"/>
<path class="k" d="M45,520 L58,530 L60,626 M58,530 L120,522 L400,600 L412,626 M120,522 L160,472 L200,470 L540,540 M400,600 L540,546 L555,525 M160,472 L165,520 M135,505 L150,540"/>
<path class="k" d="M200,540 L290,480 L292,505 L235,548 M212,545 L300,484 M310,572 L395,510 L398,535 L345,578 M322,575 L405,515 M200,470 L205,520 M380,500 L382,530"/>
<circle class="h" cx="105" cy="575" r="14"/><circle class="h" cx="237" cy="600" r="11"/><circle class="h" cx="288" cy="610" r="13"/><circle class="h" cx="418" cy="540" r="14"/>
<path class="w" d="M178,590 L200,580 L250,590 L232,606 Z"/><path class="w" d="M330,625 L350,614 L400,624 L382,642 Z"/>
<path class="k" d="M520,520 L545,522 L548,535"/>
<!-- bolts 10/11 -->
<path class="k" d="M480,605 L625,640 M415,645 L500,662"/>
<ellipse class="f" cx="637" cy="642" rx="9" ry="14"/>
<path class="w" d="M680,644 L716,652 L714,668 L678,660 Z"/><circle class="f" cx="725" cy="661" r="13"/><circle cx="727" cy="662" r="5" fill="#fff"/>
<ellipse class="f" cx="513" cy="665" rx="9" ry="14"/><ellipse cx="513" cy="665" rx="3" ry="5" fill="#fff"/>
<path class="w" d="M553,670 L590,678 L588,694 L551,686 Z"/><circle class="f" cx="597" cy="686" r="13"/><circle cx="599" cy="687" r="5" fill="#fff"/>
</g>
<text class="n" x="868.5" y="297.3" style="font-size:9px">4</text>
<text class="n" x="855" y="366.2" style="font-size:9.5px">5</text>
<text class="n" x="892.8" y="417.3" style="font-size:8.6px">10</text>
<text class="n" x="908" y="421.5" style="font-size:8.6px">11</text>
<text class="n" x="769.8" y="447.2" style="font-size:9.3px">34</text>
<!-- 70_stroke.svg -->
<g id="stroke2" transform="translate(580,425) scale(0.195228)">
<path class="k" d="M210,55 L875,150 L740,620 L175,560 Z M230,566 L210,636"/>
<path class="k" d="M438,290 L438,470 M595,325 L595,512 M350,376 L420,384 M615,428 L686,436 M350,494 L420,499 M615,546 L675,551 M640,310 L730,336 M742,244 L786,250 M252,150 L278,154"/>
<!-- bracket -->
<path class="w" d="M370,216 L375,166 L400,140 L426,155 L430,192 L545,246 L572,236 L575,200 L600,188 L626,204 L626,250 L600,272 L548,268 Z"/>
<path class="k" d="M400,140 L400,210 L370,216 M400,210 L430,192 M575,200 L600,214 L626,204 M600,214 L600,272 M385,170 L388,205 M410,160 L412,196"/>
<path class="f" d="M588,218 L598,222 L598,246 L588,242 Z"/>
<path class="w" d="M390,270 L420,246 L632,290 L642,306 L602,326 L542,320 L402,290 Z"/>
<path d="M432,258 L540,284 M428,268 L536,294 M424,278 L532,304" fill="none" stroke="#222" stroke-width="1.8"/>
<ellipse class="h" cx="596" cy="300" rx="14" ry="8"/>
<!-- bolts 8 -->
<path class="b" d="M292,158 L338,168" style="stroke-width:3.4"/><circle class="f" cx="290" cy="158" r="14"/><path d="M312,156 L334,161" stroke="#fff" stroke-width="1.4" fill="none"/>
<path class="w" d="M665,216 L702,226 L700,244 L662,234 Z"/>
<ellipse cx="716" cy="238" rx="15" ry="18" fill="#fff" stroke="#151515" stroke-width="3.2"/>
<!-- washers 6 -->
<ellipse class="f" cx="438" cy="386" rx="16" ry="10"/><ellipse class="f" cx="596" cy="422" rx="16" ry="10"/>
<!-- bolts 7 -->
<path class="w" d="M428,462 L448,462 L448,492 L428,492 Z"/><ellipse class="f" cx="438" cy="502" rx="15" ry="13"/><ellipse cx="438" cy="498" rx="7" ry="4" fill="#fff"/>
<path class="w" d="M585,506 L605,506 L605,534 L585,534 Z"/><ellipse class="f" cx="595" cy="543" rx="15" ry="13"/><ellipse cx="595" cy="539" rx="7" ry="4" fill="#fff"/>
</g>
<text class="n" x="624.6" y="456.8" style="font-size:8.8px">8</text>
<text class="n" x="734" y="477.4" style="font-size:9px">8</text>
<text class="n" x="642.6" y="500.3" style="font-size:9px">6</text>
<text class="n" x="714.5" y="514" style="font-size:9px">6</text>
<text class="n" x="642.6" y="524.8" style="font-size:9px">7</text>
<text class="n" x="712.2" y="536" style="font-size:9px">7</text>
<text class="n" x="723.2" y="494.4" style="font-size:9px">2</text>
<text class="n" x="588.6" y="557.5" textLength="72.5" lengthAdjust="spacing" style="font-size:9.4px">2 stroke engine</text>
<text class="n" x="588.6" y="566.2" textLength="17.6" lengthAdjust="spacing" style="font-size:9.4px">only</text>
<!-- 80_signalR.svg -->
<g id="sigR" transform="translate(690,480) scale(0.208333)">
<path class="k" d="M55,440 L615,120 L905,185 L910,350 L260,730 L55,730 Z"/>
<path class="k" d="M712,92 L712,140 M680,228 L680,290 M845,228 L848,275 M392,358 L392,410 M282,472 L282,540 M178,502 L178,580 M770,325 L700,360 M330,540 L388,510"/>
<!-- screw 20 -->
<path d="M842,290 L772,324" fill="none" stroke="#222" stroke-width="2.4" stroke-dasharray="1.8 0.5"/>
<circle class="f" cx="848" cy="283" r="9"/>
<!-- housing 22 -->
<path class="w" d="M555,315 L610,262 L690,292 L703,320 L700,400 L672,436 L640,441 L570,386 Z"/>
<path class="h" d="M555,315 L592,300 L666,346 L672,436 L640,441 L570,386 Z" style="stroke-width:2"/>
<path class="k" d="M575,326 L600,316 L650,356 L655,416 L592,376 Z M610,262 L592,300 M690,292 L666,346 M600,316 L592,376 M650,356 L600,350 M620,280 L680,305 M575,326 L630,370"/>
<circle class="f" cx="652" cy="290" r="3.5"/><circle class="f" cx="656" cy="396" r="4"/>
<!-- plate 18 -->
<path class="w" d="M375,430 L395,405 L465,436 Q478,412 500,440 L498,526 L480,541 L385,490 Z" style="stroke-width:2.2"/>
<path class="k" d="M390,446 L470,482 L480,522 M470,482 L490,452 M392,480 L450,462 M400,470 L470,500"/>
<circle class="f" cx="480" cy="470" r="4"/>
<!-- bulb 17 -->
<path class="w" d="M290,540 L318,528 L334,546 L326,566 L296,578 Z"/>
<ellipse class="w" cx="287" cy="558" rx="15" ry="18"/>
<path class="k" d="M306,534 L312,572 M320,530 L326,566"/>
<!-- lens 16 -->
<path class="w" d="M92,600 Q92,568 130,546 L215,580 Q240,596 242,625 L240,665 Q232,698 200,700 L102,652 Q90,630 92,600 Z"/>
<path class="k" d="M200,700 Q178,640 215,580 M108,604 Q160,610 196,640"/>
<path class="f" d="M118,608 L140,610 L136,634 L124,630 Z"/>
</g>
<text class="n" x="833.6" y="498.8" style="font-size:9px">21</text>
<text class="n" x="827.6" y="527" style="font-size:9px">22</text>
<text class="n" x="861.4" y="527" style="font-size:9px">20</text>
<text class="n" x="768.7" y="554" style="font-size:8.6px">18</text>
<text class="n" x="745" y="578" style="font-size:8.6px">17</text>
<text class="n" x="722.8" y="584.2" style="font-size:8.6px">16</text>
</svg>
</body></html>
